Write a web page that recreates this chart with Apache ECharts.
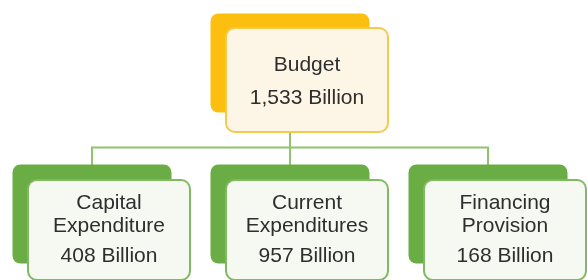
<!DOCTYPE html>
<html>
<head>
<meta charset="utf-8">
<script src="https://cdn.jsdelivr.net/npm/echarts@6/dist/echarts.min.js"></script>
<style>html,body{margin:0;padding:0;background:#fff;}#c{width:587px;height:280px;}</style>
</head>
<body>
<div id="c"></div>
<script>
const rootName = 'Budget';
const rootValue = 1533;
const childNames = ['Capital\nExpenditure', 'Current\nExpenditures', 'Financing\nProvision'];
const childValues = [408, 957, 168];
const unitLabel = 'Billion';

const boxPath = 'path://M8,0 H152 A8,8 0 0 1 160,8 V92 A8,8 0 0 1 152,100 H8 A8,8 0 0 1 0,92 V8 A8,8 0 0 1 8,0 Z';
const FONT = '"Liberation Sans", Arial, sans-serif';
const TXT = '#2e2e2e';

function fmt(v) { return v.toLocaleString('en-US') + ' ' + unitLabel; }

const rootLabel = {
  show: true, position: 'inside', offset: [17, 17],
  backgroundColor: '#fdf6e6', borderColor: '#f5c94a', borderWidth: 2, borderRadius: 8,
  width: 156, padding: [20, 2, 16, 2], align: 'center', verticalAlign: 'middle',
  formatter: p => '{n|' + p.name + '}\n{v|' + fmt(p.value) + '}',
  rich: {
    n: { fontFamily: FONT, fontSize: 21, color: TXT, lineHeight: 33, align: 'center' },
    v: { fontFamily: FONT, fontSize: 21, color: TXT, lineHeight: 33, align: 'center' }
  }
};
const leafLabel = {
  show: true, position: 'inside', offset: [17, 16],
  backgroundColor: '#f5f9f2', borderColor: '#80b962', borderWidth: 2, borderRadius: 8,
  width: 156, padding: [11, 2, 5, 2], align: 'center', verticalAlign: 'middle',
  formatter: p => '{n|' + p.name + '}\n{v|' + fmt(p.value) + '}',
  rich: {
    n: { fontFamily: FONT, fontSize: 21, color: TXT, lineHeight: 23, align: 'center' },
    v: { fontFamily: FONT, fontSize: 21, color: TXT, lineHeight: 36, align: 'center' }
  }
};

const treeData = [{
  name: rootName,
  value: rootValue,
  itemStyle: { color: '#fdbf0f', borderWidth: 0 },
  label: rootLabel,
  children: childNames.map((n, i) => ({
    name: n,
    value: childValues[i],
    itemStyle: { color: '#6aad45', borderWidth: 0 },
    label: leafLabel
  }))
}];

const chart = echarts.init(document.getElementById('c'), null, { renderer: 'canvas' });
chart.setOption({
  animation: false,
  backgroundColor: '#ffffff',
  series: [{
    type: 'tree',
    data: treeData,
    orient: 'TB',
    layout: 'orthogonal',
    left: -7, right: 0, top: 63, bottom: 66,
    symbol: boxPath,
    symbolSize: [159, 99],
    edgeShape: 'polyline',
    edgeForkPosition: '56%',
    expandAndCollapse: false,
    initialTreeDepth: -1,
    roam: false,
    lineStyle: { color: '#8dc46c', width: 2 },
    label: leafLabel,
    leaves: { label: leafLabel },
    emphasis: { disabled: true }
  }]
});
</script>
</body>
</html>
